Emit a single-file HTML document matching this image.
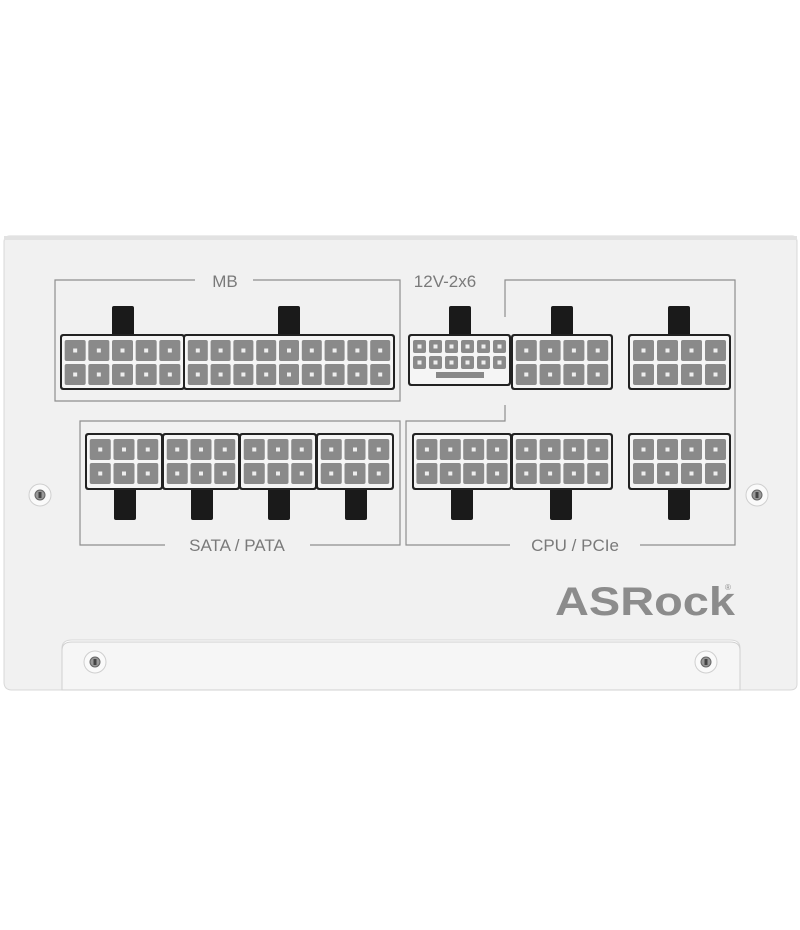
<!DOCTYPE html>
<html><head><meta charset="utf-8"><style>
html,body{margin:0;padding:0;background:#fff;}
svg{display:block}
text{font-family:"Liberation Sans",sans-serif;fill:#7a7a7a}
</style></head><body>
<svg id="s" width="800" height="930" viewBox="0 0 800 930" xmlns="http://www.w3.org/2000/svg">
<rect width="800" height="930" fill="#fff"/>
<path d="M10 236 H792 Q797 236 797 242 V684 Q797 690 790 690 H740 V648 Q740 640 730 640 H72 Q62 640 62 648 V690 H12 Q4 690 4 682 V242 Q4 236 10 236 Z" fill="#f1f1f1" stroke="#d8d8d8" stroke-width="1"/>
<rect x="4" y="236" width="793" height="4" fill="#e2e2e2"/>
<path d="M62 690 V650 Q62 642 72 642 H730 Q740 642 740 650 V690 Z" fill="#f6f6f6" stroke="#d0d0d0"/>
<g fill="none" stroke="#8e8e8e" stroke-width="1.2">
<path d="M195 280 H55 V401 H400 V280 H253"/>
<path d="M505 317 V280 H735 V545 H640"/>
<path d="M505 405 V421 H406 V545 H510"/>
<path d="M165 545 H80 V421 H400 V545 H310"/>
</g>
<text x="225" y="287" font-size="17" text-anchor="middle">MB</text>
<text x="445" y="287" font-size="17" text-anchor="middle">12V-2x6</text>
<text x="237" y="551" font-size="17" text-anchor="middle">SATA / PATA</text>
<text x="575" y="551" font-size="17" text-anchor="middle">CPU / PCIe</text>
<text x="555" y="615" font-size="40" font-weight="bold" textLength="180" lengthAdjust="spacingAndGlyphs" style="fill:#8c8c8c">ASRock</text>
<text x="725" y="590" font-size="8" style="fill:#8c8c8c">®</text>
<g id="c"></g>
</svg>
<script>
var g=document.getElementById('c'),h='';
function latch(cx,y1,y2){h+='<rect x="'+(cx-11)+'" y="'+y1+'" width="22" height="'+(y2-y1)+'" rx="2" fill="#1a1a1a"/>';}
function conn(x,y,w,hh,cols,rows,cw,ch){
 h+='<rect x="'+(x-2)+'" y="'+(y-2)+'" width="'+(w+4)+'" height="'+(hh+4)+'" rx="3" fill="#222"/>';
 h+='<rect x="'+x+'" y="'+y+'" width="'+w+'" height="'+hh+'" rx="2" fill="#f5f5f5"/>';
 var gx=(w-cols*cw)/(cols+1),gy=3;
 for(var r=0;r<rows;r++)for(var c=0;c<cols;c++){
  var px=x+gx+c*(cw+gx),py=y+4+r*(ch+gy);
  h+='<rect x="'+px+'" y="'+py+'" width="'+cw+'" height="'+ch+'" rx="2" fill="#8a8a8a"/>';
  h+='<rect x="'+(px+cw/2-2)+'" y="'+(py+ch/2-2)+'" width="4" height="4" fill="#eee"/>';
 }
}
function screw(x,y){h+='<circle cx="'+x+'" cy="'+y+'" r="11" fill="#fafafa" stroke="#cfcfcf"/><circle cx="'+x+'" cy="'+y+'" r="5" fill="#999" stroke="#666"/><rect x="'+(x-1.5)+'" y="'+(y-3)+'" width="3" height="6" fill="#444"/>';}
latch(123,306,336);latch(289,306,336);latch(460,306,336);latch(562,306,336);latch(679,306,336);
conn(62,336,121,52,5,2,21,21);conn(185,336,208,52,9,2,20,21);
conn(410,336,99,48,6,2,13,13);
h+='<rect x="436" y="372" width="48" height="6" fill="#888"/>';
conn(513,336,98,52,4,2,21,21);conn(630,336,99,52,4,2,21,21);
var sx=[87,164,241,318];for(var i=0;i<4;i++){latch(sx[i]+38,487,520);conn(sx[i],435,74,53,3,2,21,21);}
latch(462,487,520);latch(561,487,520);latch(679,487,520);
conn(414,435,96,53,4,2,21,21);conn(513,435,98,53,4,2,21,21);conn(630,435,99,53,4,2,21,21);
screw(40,495);screw(757,495);screw(95,662);screw(706,662);
g.innerHTML=h;
</script>
</body></html>
